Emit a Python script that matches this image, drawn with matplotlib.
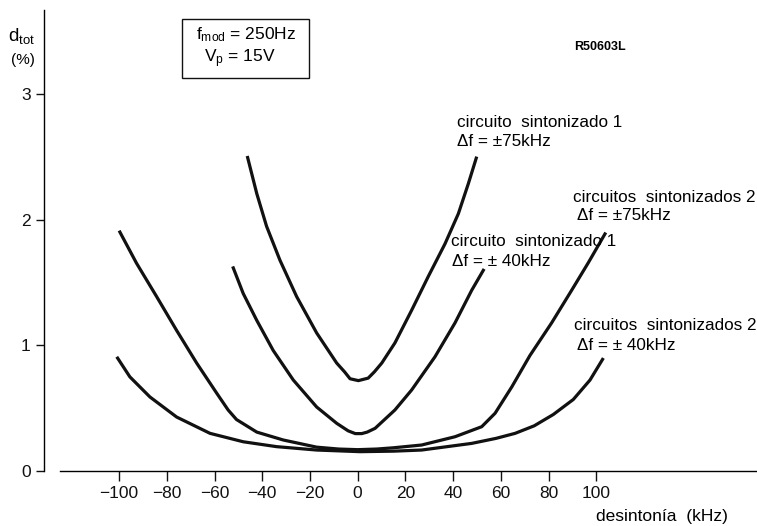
import matplotlib
matplotlib.use("Agg")
import matplotlib.pyplot as plt
from matplotlib.patches import Rectangle

plt.rcParams['font.family'] = ['Liberation Sans', 'DejaVu Sans']
plt.rcParams['mathtext.fontset'] = 'custom'
plt.rcParams['mathtext.rm'] = 'Liberation Sans'
plt.rcParams['mathtext.it'] = 'Liberation Sans:italic'
plt.rcParams['mathtext.bf'] = 'Liberation Sans:bold'

# ---- data ----
# circuito sintonizado 1, Δf = ±75 kHz
c1_75_x = [-46.3, -42.3, -38.2, -32.6, -25.6, -17.2, -8.8, -5.5, -3.2, 0.3, 4.4, 7, 10.1, 15.6, 22.6, 29.6, 36.6, 42.2, 46.4, 49.9]
c1_75_y = [2.51, 2.21, 1.95, 1.68, 1.39, 1.10, 0.86, 0.79, 0.735, 0.72, 0.74, 0.79, 0.86, 1.02, 1.28, 1.55, 1.81, 2.05, 2.29, 2.505]
# circuito sintonizado 1, Δf = ±40 kHz
c1_40_x = [-52.4, -48, -42.3, -35.4, -27, -17.2, -8.8, -4, -1, 1.7, 4, 7.3, 15.6, 22.6, 32.4, 40.8, 47.8, 53]
c1_40_y = [1.63, 1.415, 1.20, 0.96, 0.725, 0.51, 0.38, 0.32, 0.298, 0.298, 0.31, 0.34, 0.486, 0.645, 0.91, 1.18, 1.44, 1.61]
# circuitos sintonizados 2, Δf = ±75 kHz
c2_75_x = [-100, -92.7, -84.3, -75.9, -67.5, -59.1, -54.3, -50.8, -42.3, -31.2, -17.2, -8, 0, 8, 15, 26.8,
           40.8, 52, 57.6, 64.6, 72.2, 81.3, 89.7, 96.7, 104]
c2_75_y = [1.915, 1.655, 1.39, 1.12, 0.86, 0.62, 0.486, 0.41, 0.31, 0.247, 0.19, 0.175, 0.17, 0.175, 0.185, 0.207,
           0.273, 0.353, 0.46, 0.67, 0.92, 1.18, 1.44, 1.66, 1.90]
# circuitos sintonizados 2, Δf = ±40 kHz
c2_40_x = [-101, -95.5, -87.1, -75.9, -61.9, -48, -34, -17.2, 1, 15, 26.8, 47.8, 58, 66, 74, 82, 90.4, 97.4, 103]
c2_40_y = [0.91, 0.75, 0.59, 0.43, 0.30, 0.233, 0.194, 0.167, 0.154, 0.158, 0.167, 0.22, 0.26, 0.30, 0.36, 0.45, 0.57, 0.725, 0.90]

xticks = [-100, -80, -60, -40, -20, 0, 20, 40, 60, 80, 100]
xtick_labels = ["\u2212100", "\u221280", "\u221260", "\u221240", "\u221220", "0", "20", "40", "60", "80", "100"]
yticks = [0, 1, 2, 3]
ytick_labels = ["0", "1", "2", "3"]

W, H = 757, 526
fig = plt.figure(figsize=(W / 100, H / 100), dpi=100)

def fx(x):
    return x / W

def fy(y):
    return 1 - y / H

ax_l, ax_r, ax_t, ax_b = 44, 757, 10, 471
ax = fig.add_axes([fx(ax_l), fy(ax_b), (ax_r - ax_l) / W, (ax_b - ax_t) / H])
ax.set_xlim(-131.5, 167.4)
ax.set_ylim(0, 3.673)

for xs, ys in [(c1_75_x, c1_75_y), (c1_40_x, c1_40_y), (c2_75_x, c2_75_y), (c2_40_x, c2_40_y)]:
    ax.plot(xs, ys, color='#111111', lw=2.3, solid_capstyle='butt', solid_joinstyle='round')

ax.spines['top'].set_visible(False)
ax.spines['right'].set_visible(False)
ax.spines['left'].set_linewidth(1.0)
ax.spines['bottom'].set_linewidth(1.0)
ax.spines['bottom'].set_bounds(-124.8, 167.4)

ax.set_xticks(xticks)
ax.set_xticklabels(xtick_labels)
ax.set_yticks(yticks)
ax.set_yticklabels(ytick_labels)
ax.tick_params(axis='x', direction='out', length=7, width=1, pad=4, labelsize=12.5, colors='#111111')
ax.tick_params(axis='y', direction='out', length=5.5, width=1, pad=4, labelsize=12.5, colors='#111111')

# axis labels
fig.text(fx(8), fy(36), r"$\mathrm{d_{tot}}$", fontsize=13.5, ha='left', va='center')
fig.text(fx(11), fy(60), "(%)", fontsize=11, ha='left', va='center')
fig.text(fx(596), fy(517), "desintonía  (kHz)", fontsize=12.5, ha='left', va='center')

# parameter box
fig.patches.append(Rectangle((fx(182), fy(78)), (309 - 182) / W, (78 - 19) / H,
                             transform=fig.transFigure, fill=False, lw=1.0, edgecolor='#111111'))
fig.text(fx(246), fy(35), r"$\mathrm{f_{mod}}$ = 250Hz", fontsize=12.5, ha='center', va='center')
fig.text(fx(240), fy(59), r"$\mathrm{V_p}$ = 15V", fontsize=12.5, ha='center', va='center')

fig.text(fx(600), fy(47), "R50603L", fontsize=9, fontweight='bold', ha='center', va='center')

# curve annotations
labels = [
    (457, 123, "circuito  sintonizado 1"),
    (457, 141, "\u0394f = \u00b175kHz"),
    (573, 198, "circuitos  sintonizados 2"),
    (577, 216, "\u0394f = \u00b175kHz"),
    (451, 241, "circuito  sintonizado 1"),
    (452, 262, "\u0394f = \u00b1 40kHz"),
    (574, 326, "circuitos  sintonizados 2"),
    (577, 345, "\u0394f = \u00b1 40kHz"),
]
for x, y, s in labels:
    fig.text(fx(x), fy(y), s, fontsize=12.3, ha='left', va='center')

fig.savefig("out.png", dpi=100)
